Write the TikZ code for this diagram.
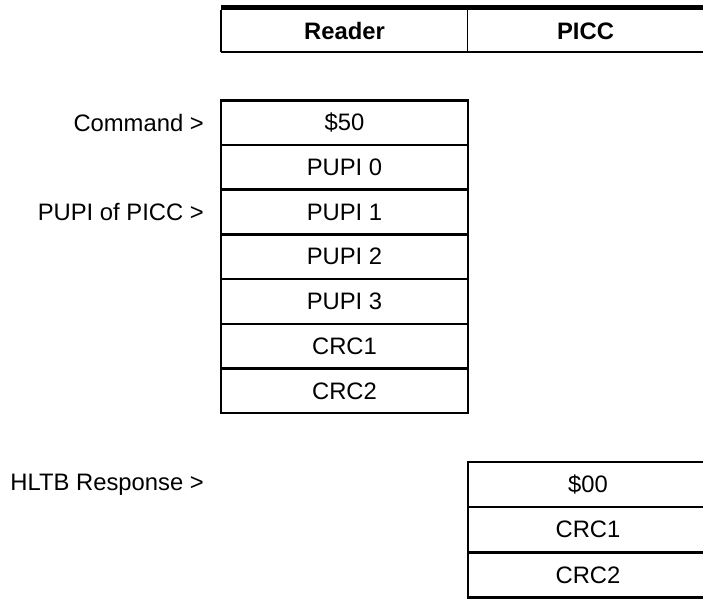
\documentclass[tikz,border=0pt]{standalone}
\usepackage{fontspec}
\setmainfont{Liberation Sans}
\begin{document}
\begin{tikzpicture}[x=1pt,y=-1pt,
  cell/.style={draw,line width=2.5pt,rectangle,inner sep=0pt,outer sep=0pt,
    minimum width=247pt,minimum height=44.7pt,anchor=north west,
    font=\fontsize{23.8}{28}\selectfont},
  rcell/.style={cell,minimum width=240pt},
  lab/.style={anchor=east,inner sep=0pt,font=\fontsize{23.8}{28}\selectfont},
  head/.style={inner sep=0pt,font=\fontsize{23.8}{28}\selectfont\bfseries}]
\useasboundingbox (0,0) rectangle (703,598);
% header
\draw[line width=5pt] (221,7.5) -- (703,7.5);
\draw[line width=1.5pt] (221,52) -- (703,52);
\draw[line width=1.5pt] (221,10) -- (221,52);
\draw[line width=1.5pt] (467.5,10) -- (467.5,52);
\node[head] (reader) at (344.5,31) {Reader};
\node[head] (picc) at (585.5,31) {PICC};
% reader frame
\node[cell] (c0) at (221,100.3) {\$50};
\node[cell] (c1) at (221,145) {PUPI 0};
\node[cell] (c2) at (221,189.7) {PUPI 1};
\node[cell] (c3) at (221,234.4) {PUPI 2};
\node[cell] (c4) at (221,279.1) {PUPI 3};
\node[cell] (c5) at (221,323.8) {CRC1};
\node[cell] (c6) at (221,368.5) {CRC2};
% labels
\node[lab] (lcmd) at (204,123) {Command >};
\node[lab] (lpupi) at (204,212) {PUPI of PICC >};
\node[lab] (lhltb) at (204,484.6) {HLTB Response >};
% PICC frame
\node[rcell,minimum height=45pt] (r0) at (468,462) {\$00};
\node[rcell,minimum height=45pt] (r1) at (468,507.2) {CRC1};
\node[rcell,minimum height=45pt] (r2) at (468,552.4) {CRC2};
\end{tikzpicture}
\end{document}
